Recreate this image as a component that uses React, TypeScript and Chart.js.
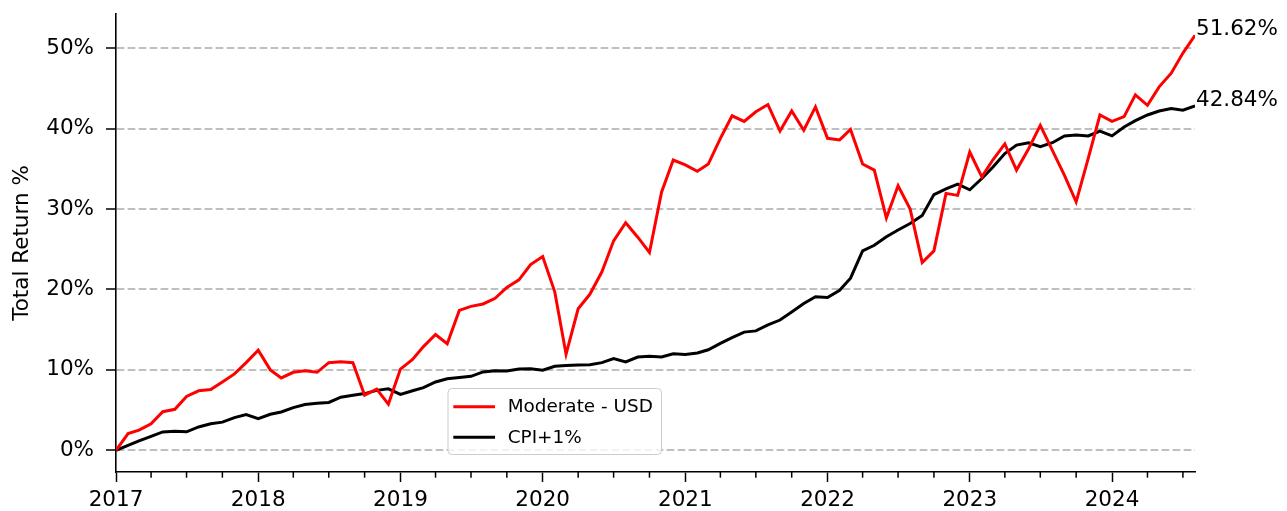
import React, { useEffect, useRef } from 'react';
import { Chart, registerables } from 'chart.js';

Chart.register(...registerables);

// Monthly observation dates (month starts)
const months = [
  '2017-01', '2017-02', '2017-03', '2017-04', '2017-05', '2017-06', '2017-07', '2017-08', '2017-09', '2017-10', '2017-11', '2017-12',
  '2018-01', '2018-02', '2018-03', '2018-04', '2018-05', '2018-06', '2018-07', '2018-08', '2018-09', '2018-10', '2018-11', '2018-12',
  '2019-01', '2019-02', '2019-03', '2019-04', '2019-05', '2019-06', '2019-07', '2019-08', '2019-09', '2019-10', '2019-11', '2019-12',
  '2020-01', '2020-02', '2020-03', '2020-04', '2020-05', '2020-06', '2020-07', '2020-08', '2020-09', '2020-10', '2020-11', '2020-12',
  '2021-01', '2021-02', '2021-03', '2021-04', '2021-05', '2021-06', '2021-07', '2021-08', '2021-09', '2021-10', '2021-11', '2021-12',
  '2022-01', '2022-02', '2022-03', '2022-04', '2022-05', '2022-06', '2022-07', '2022-08', '2022-09', '2022-10', '2022-11', '2022-12',
  '2023-01', '2023-02', '2023-03', '2023-04', '2023-05', '2023-06', '2023-07', '2023-08', '2023-09', '2023-10', '2023-11', '2023-12',
  '2024-01', '2024-02', '2024-03', '2024-04', '2024-05', '2024-06', '2024-07', '2024-08',
];

const moderateUSD = [
  0, 2.07, 2.5, 3.3, 4.8, 5.1, 6.7, 7.4, 7.55, 8.5, 9.5, 10.9,
  12.45, 10.0, 9.0, 9.7, 9.9, 9.7, 10.9, 11.0, 10.9, 6.85, 7.6, 5.75,
  10.1, 11.3, 12.9, 14.4, 13.25, 17.4, 17.9, 18.2, 18.9, 20.25, 21.2, 23.1,
  24.1, 19.7, 11.95, 17.6, 19.4, 22.2, 26.05, 28.3, 26.5, 24.6, 32.1, 36.1,
  35.5, 34.7, 35.6, 38.8, 41.6, 40.9, 42.1, 43.0, 39.7, 42.2, 39.8, 42.7,
  38.8, 38.6, 39.9, 35.6, 34.85, 28.9, 32.9, 30.0, 23.35, 24.8, 31.95, 31.7,
  37.1, 34.0, 36.1, 38.1, 34.85, 37.5, 40.4, 37.3, 34.2, 30.9, 36.3, 41.7,
  40.9, 41.5, 44.2, 42.9, 45.2, 46.9, 49.4, 51.62,
];

const cpiPlus1 = [
  0, 0.62, 1.16, 1.74, 2.28, 2.36, 2.3, 2.9, 3.3, 3.5, 4.07, 4.44,
  3.94, 4.48, 4.77, 5.3, 5.7, 5.85, 5.95, 6.6, 6.85, 7.05, 7.45, 7.65,
  6.95, 7.4, 7.8, 8.5, 8.9, 9.05, 9.2, 9.75, 9.9, 9.85, 10.1, 10.15,
  9.95, 10.45, 10.55, 10.6, 10.65, 10.9, 11.4, 11.0, 11.6, 11.7, 11.6, 12.0,
  11.9, 12.1, 12.5, 13.3, 14.0, 14.7, 14.85, 15.6, 16.2, 17.2, 18.25, 19.1,
  19.0, 19.9, 21.4, 24.8, 25.5, 26.55, 27.4, 28.2, 29.2, 31.8, 32.5, 33.1,
  32.4, 33.8, 35.2, 36.9, 37.95, 38.25, 37.75, 38.25, 39.1, 39.2, 39.1, 39.7,
  39.1, 40.2, 41.0, 41.7, 42.2, 42.5, 42.3, 42.84,
];

const seriesNames = ['Moderate - USD', 'CPI+1%'];
const seriesColors = ['#ff0000', '#000000'];
const yearTicks = ['2017', '2018', '2019', '2020', '2021', '2022', '2023', '2024'];
const minorMonths = ['04', '07', '10'];
const yTicks = [0, 10, 20, 30, 40, 50];
const yAxisTitle = 'Total Return %';

const FONT = 'DejaVu Sans';
const dayOf = (s: string) => {
  const [y, m] = s.split('-').map(Number);
  return (Date.UTC(y, m - 1, 1) - Date.UTC(2017, 0, 1)) / 864e5;
};

const decorPlugin = {
  id: 'decor',
  afterDraw(chart: any) {
    const { ctx, chartArea, scales } = chart;
    const xs = scales.x;
    const ys = scales.y;
    ctx.save();
    // minor ticks on x axis (quarters)
    ctx.strokeStyle = '#000';
    ctx.lineWidth = 1.5;
    for (const yr of yearTicks) {
      for (const mm of minorMonths) {
        const d = dayOf(`${yr}-${mm}`);
        if (d > xs.max) continue;
        const px = xs.getPixelForValue(d);
        ctx.beginPath();
        ctx.moveTo(px, chartArea.bottom);
        ctx.lineTo(px, chartArea.bottom + 5.7);
        ctx.stroke();
      }
    }
    // end value labels
    ctx.fillStyle = '#000';
    ctx.font = `21.5px "${FONT}"`;
    ctx.textAlign = 'left';
    ctx.textBaseline = 'alphabetic';
    chart.data.datasets.forEach((ds: any) => {
      const last = ds.data[ds.data.length - 1];
      const px = xs.getPixelForValue(last.x);
      const py = ys.getPixelForValue(last.y);
      ctx.fillText(`${last.y.toFixed(2)}%`, px + 1, py);
    });
    // legend
    const bx = 448, by = 388.5, bw = 213.5, bh = 66, r = 4;
    ctx.beginPath();
    ctx.moveTo(bx + r, by);
    ctx.lineTo(bx + bw - r, by);
    ctx.quadraticCurveTo(bx + bw, by, bx + bw, by + r);
    ctx.lineTo(bx + bw, by + bh - r);
    ctx.quadraticCurveTo(bx + bw, by + bh, bx + bw - r, by + bh);
    ctx.lineTo(bx + r, by + bh);
    ctx.quadraticCurveTo(bx, by + bh, bx, by + bh - r);
    ctx.lineTo(bx, by + r);
    ctx.quadraticCurveTo(bx, by, bx + r, by);
    ctx.closePath();
    ctx.fillStyle = 'rgba(255,255,255,0.8)';
    ctx.fill();
    ctx.strokeStyle = '#cccccc';
    ctx.lineWidth = 1;
    ctx.stroke();
    const rows = [406.7, 437.3];
    ctx.font = `18.4px "${FONT}"`;
    ctx.textBaseline = 'middle';
    chart.data.datasets.forEach((ds: any, i: number) => {
      ctx.strokeStyle = ds.borderColor;
      ctx.lineWidth = 3;
      ctx.beginPath();
      ctx.moveTo(453.3, rows[i]);
      ctx.lineTo(495, rows[i]);
      ctx.stroke();
      ctx.fillStyle = '#000';
      ctx.fillText(ds.label, 507.7, rows[i] + 1);
    });
    ctx.restore();
  },
};

export default function App() {
  const ref = useRef<HTMLCanvasElement>(null);
  useEffect(() => {
    const canvas = ref.current!;
    const seriesData = [moderateUSD, cpiPlus1];
    const chart = new Chart(canvas, {
      type: 'line',
      data: {
        datasets: seriesData.map((vals, k) => ({
          label: seriesNames[k],
          data: months.map((m, i) => ({ x: dayOf(m), y: vals[i] })),
          borderColor: seriesColors[k],
          backgroundColor: seriesColors[k],
          borderWidth: 3,
          pointRadius: 0,
          tension: 0,
          fill: false,
        })),
      },
      options: {
        responsive: false,
        devicePixelRatio: 1,
        animation: false,
        layout: { padding: { left: 0, top: 14, right: 92, bottom: 0 } },
        plugins: { legend: { display: false }, tooltip: { enabled: false } },
        scales: {
          x: {
            type: 'linear',
            min: dayOf(months[0]),
            max: dayOf(months[months.length - 1]),
            afterBuildTicks: (s: any) => {
              s.ticks = yearTicks.map((y) => ({ value: dayOf(`${y}-01`) }));
            },
            afterFit: (s: any) => {
              s.height = 39;
              s.paddingLeft = 0;
              s.paddingRight = 0;
            },
            ticks: {
              autoSkip: false,
              maxRotation: 0,
              padding: 5.4,
              color: '#000',
              font: { family: FONT, size: 21.5 },
              callback: (v: any) => {
                const idx = yearTicks.findIndex((y) => dayOf(`${y}-01`) === v);
                return idx >= 0 ? yearTicks[idx] : '';
              },
            },
            grid: {
              display: true,
              drawOnChartArea: false,
              drawTicks: true,
              tickLength: 10,
              tickColor: '#000',
              tickWidth: 1.5,
            },
            border: { display: true, color: '#000', width: 1.6 },
          },
          y: {
            type: 'linear',
            min: -2.7,
            max: 54.26,
            afterBuildTicks: (s: any) => {
              s.ticks = yTicks.map((v) => ({ value: v }));
            },
            afterFit: (s: any) => {
              s.width = 116;
              s.paddingTop = 0;
              s.paddingBottom = 0;
            },
            title: {
              display: true,
              text: yAxisTitle,
              color: '#000',
              font: { family: FONT, size: 21.5 },
              padding: { top: 9.5, bottom: 0 },
            },
            ticks: {
              autoSkip: false,
              padding: 12,
              color: '#000',
              font: { family: FONT, size: 21.5 },
              callback: (v: any) => `${v}%`,
            },
            grid: {
              display: true,
              drawOnChartArea: true,
              drawTicks: true,
              tickLength: 10,
              tickColor: '#000',
              tickWidth: 1.5,
              color: 'rgba(128,128,128,0.5)',
              lineWidth: 2,
            },
            border: { display: true, color: '#000', width: 1.6, dash: [7.7, 3.3] },
          },
        },
      },
      plugins: [decorPlugin],
    } as any);
    return () => chart.destroy();
  }, []);
  return (
    <div style={{ position: 'absolute', left: 0, top: 0, width: 1287, height: 511, background: '#fff' }}>
      <canvas ref={ref} width={1287} height={511} style={{ display: 'block', width: 1287, height: 511 }} />
    </div>
  );
}
